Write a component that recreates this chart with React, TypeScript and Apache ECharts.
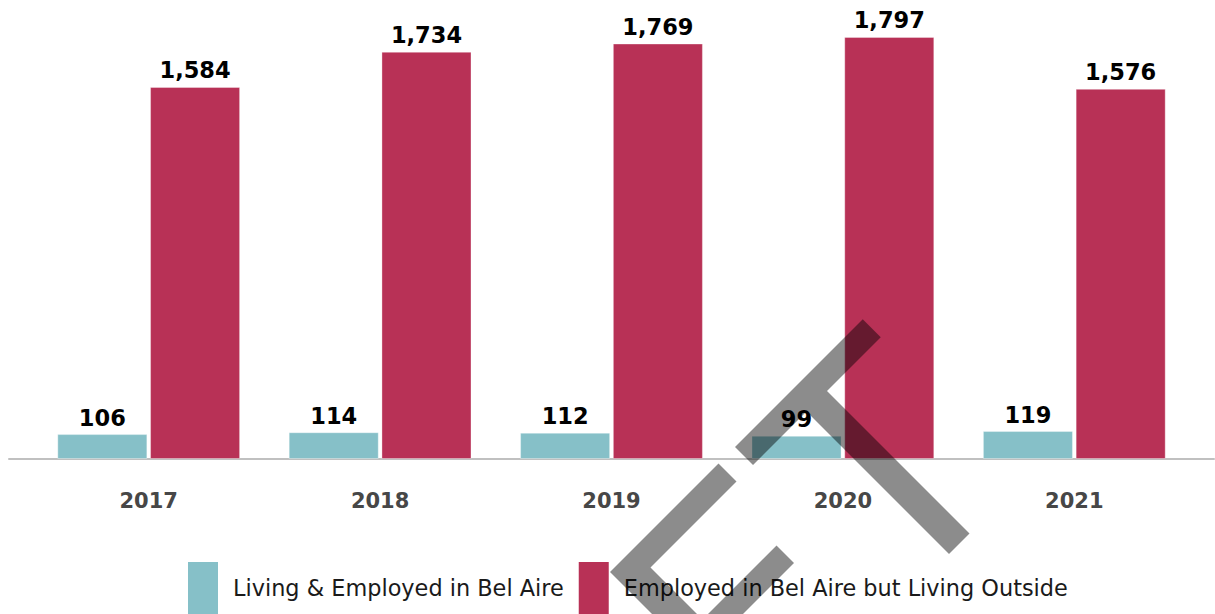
import React, { useEffect, useRef } from "react";
import * as echarts from "echarts";

const years = ["2017", "2018", "2019", "2020", "2021"];
const livingEmployed = [106, 114, 112, 99, 119];
const employedOutside = [1584, 1734, 1769, 1797, 1576];
const seriesNames = ["Living & Employed in Bel Aire", "Employed in Bel Aire but Living Outside"];
const colors = ["#86c0c8", "#b83156"];

// watermark letter outlines in a 45°-rotated frame (u = x - y, v = x + y)
const letterT: [number, number][] = [
  [288, 1182], [543.5, 1182], [543.5, 1218], [436, 1218], [436, 1503], [395, 1503], [395, 1218], [288, 1218],
];
const letterE: [number, number][] = [
  [38, 1182], [255, 1182], [255, 1218], [83, 1218], [83, 1322], [231, 1322], [231, 1357], [83, 1357], [83, 1700], [38, 1700],
];
const toXY = (pts: [number, number][]) => pts.map(([u, v]) => [(u + v) / 2, (v - u) / 2]);

export default function App() {
  const ref = useRef<HTMLDivElement>(null);
  useEffect(() => {
    if (!ref.current) return;
    const chart = echarts.init(ref.current, null, { renderer: "svg" });
    const labelStyle = {
      show: true,
      position: "top",
      distance: 5,
      fontFamily: "DejaVu Sans",
      fontWeight: "bold",
      fontSize: 22.5,
      color: "#000",
      formatter: (p: any) => Number(p.value).toLocaleString("en-US"),
    };
    chart.setOption({
      animation: false,
      backgroundColor: "#fff",
      grid: [
        { left: 33, right: 25, top: 1, bottom: 155 },
        { left: 9, right: 1, top: 1, bottom: 155 },
      ],
      xAxis: [
        {
          type: "category",
          gridIndex: 0,
          data: years,
          axisLine: { show: false },
          axisTick: { show: false },
          axisLabel: {
            margin: 31,
            fontFamily: "DejaVu Sans",
            fontWeight: "bold",
            fontSize: 21,
            color: "#474747",
          },
        },
        {
          type: "category",
          gridIndex: 1,
          data: [""],
          axisLine: { show: true, lineStyle: { color: "#c0c0c0", width: 2 } },
          axisTick: { show: false },
          axisLabel: { show: false },
        },
      ],
      yAxis: [
        { type: "value", gridIndex: 0, min: 0, max: 1950, show: false },
        { type: "value", gridIndex: 1, min: 0, max: 1950, show: false },
      ],
      legend: {
        left: 188,
        top: 562,
        padding: 0,
        icon: "rect",
        itemWidth: 30,
        itemHeight: 52,
        itemGap: 15,
        itemStyle: { borderWidth: 0 },
        textStyle: {
          fontFamily: "DejaVu Sans",
          fontSize: 22.4,
          color: "#1a1a1a",
          padding: [0, 0, 0, 10],
        },
        data: seriesNames,
      },
      series: [
        {
          name: seriesNames[0],
          type: "bar",
          data: livingEmployed,
          barGap: "3%",
          barCategoryGap: "21%",
          itemStyle: { color: colors[0], borderColor: "rgba(255,255,255,0.35)", borderWidth: 1 },
          label: labelStyle,
        },
        {
          name: seriesNames[1],
          type: "bar",
          data: employedOutside,
          barGap: "3%",
          barCategoryGap: "21%",
          itemStyle: { color: colors[1], borderColor: "rgba(255,255,255,0.35)", borderWidth: 1 },
          label: labelStyle,
        },
      ],
      graphic: [
        {
          type: "polygon",
          z: 100,
          silent: true,
          shape: { points: toXY(letterT) },
          style: { fill: "rgba(0,0,0,0.45)" },
        },
        {
          type: "polygon",
          z: 100,
          silent: true,
          shape: { points: toXY(letterE) },
          style: { fill: "rgba(0,0,0,0.45)" },
        },
      ],
    });
    return () => chart.dispose();
  }, []);
  return (
    <div
      ref={ref}
      style={{ position: "fixed", left: 0, top: 0, width: 1215, height: 614 }}
    />
  );
}
